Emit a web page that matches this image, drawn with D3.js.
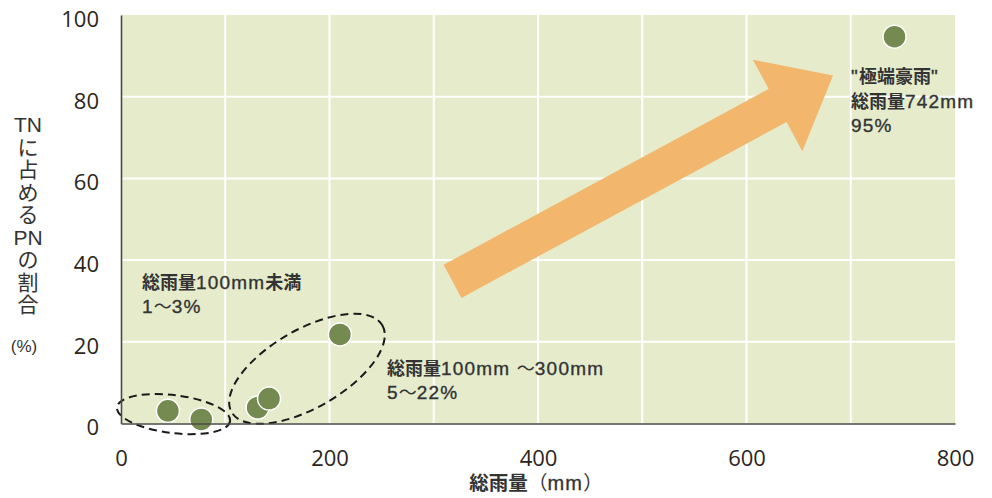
<!DOCTYPE html>
<html>
<head>
<meta charset="utf-8">
<script src="https://cdn.jsdelivr.net/npm/d3@7"></script>
<style>
  html, body { margin: 0; padding: 0; background: #fff; }
  svg { display: block; }
</style>
</head>
<body>
<svg id="chart" width="992" height="498"></svg>
<script>
// ---- data ----
const rainfall = [45, 77, 131, 142, 210, 742];      // 総雨量 (mm)
const pnRatio  = [3.1, 1.0, 3.9, 6.1, 21.8, 94.7];   // TNに占めるPNの割合 (%)
const xTicks = [0, 200, 400, 600, 800];
const yTicks = [0, 20, 40, 60, 80, 100];
const xGrid = [100, 200, 300, 400, 500, 600, 700];
const yGrid = [20, 40, 60, 80];
const xTitle = "総雨量（mm）";
const yTitleRows = ["TN", "に", "占", "め", "る", "PN", "の", "割", "合"];
const yUnit = "(%)";
const labelLow = ["総雨量100mm未満", "1～3%"];
const labelMid = ["総雨量100mm ～300mm", "5～22%"];
const labelHigh = ["\"極端豪雨\"", "総雨量742mm", "95%"];
// arrow from (rainfall, ratio) to (rainfall, ratio)
const arrowFrom = [318, 34.8];
const arrowTo = [683, 85.2];
// group ellipses centred at (rainfall, ratio)
const groupLow = [50.4, 2.3];
const groupMid = [178.4, 13.4];

// ---- layout ----
const svg = d3.select("#chart");
const x = d3.scaleLinear().domain([0, 800]).range([121, 955]);
const y = d3.scaleLinear().domain([0, 100]).range([423.5, 15]);
const numFont = "'Open Sans', 'Liberation Sans', sans-serif";
const jpFont = "'Noto Sans CJK JP', 'Noto Sans', sans-serif";
const latFont = "'Liberation Sans', Arial, sans-serif";
const textColor = "#333333";

// background
svg.append("rect")
  .attr("x", x(0)).attr("y", y(100))
  .attr("width", x(800) - x(0)).attr("height", y(0) - y(100))
  .attr("fill", "#e5ebcb");

// grid
svg.append("g").selectAll("line").data(xGrid).join("line")
  .attr("x1", d => x(d)).attr("x2", d => x(d))
  .attr("y1", y(100)).attr("y2", y(0))
  .attr("stroke", "#ffffff").attr("stroke-width", 2);
svg.append("g").selectAll("line").data(yGrid).join("line")
  .attr("x1", x(0)).attr("x2", x(800))
  .attr("y1", d => y(d)).attr("y2", d => y(d))
  .attr("stroke", "#ffffff").attr("stroke-width", 2);

// arrow
(function () {
  const x0 = x(arrowFrom[0]), y0 = y(arrowFrom[1]);
  const x1 = x(arrowTo[0]), y1 = y(arrowTo[1]);
  const dx = x1 - x0, dy = y1 - y0;
  const len = Math.hypot(dx, dy);
  const ux = dx / len, uy = dy / len;
  const px = -uy, py = ux;
  const shaftW = 37.6, headW = 104, headL = 63;
  const bx = x1 - ux * headL, by = y1 - uy * headL;
  const pts = [
    [x0 + px * shaftW / 2, y0 + py * shaftW / 2],
    [bx + px * shaftW / 2, by + py * shaftW / 2],
    [bx + px * headW / 2, by + py * headW / 2],
    [x1, y1],
    [bx - px * headW / 2, by - py * headW / 2],
    [bx - px * shaftW / 2, by - py * shaftW / 2],
    [x0 - px * shaftW / 2, y0 - py * shaftW / 2]
  ];
  svg.append("polygon")
    .attr("points", pts.map(p => p.join(",")).join(" "))
    .attr("fill", "#f2b66d");
})();

// dashed group ellipses
const ellipses = [
  { c: groupLow, rx: 57, ry: 19, rot: 7 },
  { c: groupMid, rx: 87, ry: 39, rot: -30 }
];
svg.append("g").selectAll("ellipse").data(ellipses).join("ellipse")
  .attr("cx", 0).attr("cy", 0)
  .attr("rx", d => d.rx).attr("ry", d => d.ry)
  .attr("transform", d => `translate(${x(d.c[0])},${y(d.c[1])}) rotate(${d.rot})`)
  .attr("fill", "none").attr("stroke", "#1a1a1a")
  .attr("stroke-width", 2).attr("stroke-dasharray", "8,5");

// points
const pts = rainfall.map((r, i) => ({ r, p: pnRatio[i] }));
svg.append("g").selectAll("circle").data(pts).join("circle")
  .attr("cx", d => x(d.r)).attr("cy", d => y(d.p))
  .attr("r", 11.5)
  .attr("fill", "#748a50")
  .attr("stroke", "#ffffff").attr("stroke-width", 1.5);

// axes
const xAxis = d3.axisBottom(x).tickValues(xTicks).tickSize(0).tickPadding(27).tickFormat(d3.format("d"));
const yAxis = d3.axisLeft(y).tickValues(yTicks).tickSize(0).tickPadding(22).tickFormat(d3.format("d"));
const gx = svg.append("g").attr("transform", `translate(0,${y(0)})`).call(xAxis);
const gy = svg.append("g").attr("transform", `translate(${x(0)},0)`).call(yAxis);
[gx, gy].forEach(g => {
  g.select(".domain").attr("stroke", "#4b4b45").attr("stroke-width", 1.6);
  g.selectAll("text")
    .attr("font-family", numFont).attr("font-size", 22)
    .attr("fill", "#2b2522");
});
gy.selectAll("text").attr("dy", "0.52em");

// mixed-script text helper: ideographs/kana bold, fullwidth punctuation regular CJK, latin regular
function segments(str) {
  const re = /([\u3040-\u30ff\u4e00-\u9fff]+)|([\uff00-\uffef\u3000-\u303f]+)|([^\u3040-\u30ff\u4e00-\u9fff\uff00-\uffef\u3000-\u303f]+)/g;
  const out = [];
  let m;
  while ((m = re.exec(str)) !== null) {
    if (m[1]) out.push({ t: m[1], kind: "cjk" });
    else if (m[2]) out.push({ t: m[2], kind: "punct" });
    else out.push({ t: m[3], kind: "lat" });
  }
  return out;
}
function mixedText(parent, str, x0, y0, cjkSize, latSize, anchor) {
  const t = parent.append("text")
    .attr("x", x0).attr("y", y0)
    .attr("fill", textColor)
    .attr("text-anchor", anchor || "start")
    .style("white-space", "pre");
  t.selectAll("tspan").data(segments(str)).join("tspan")
    .attr("font-family", d => d.kind === "lat" ? latFont : jpFont)
    .attr("font-weight", d => d.kind === "cjk" ? 700 : 400)
    .attr("font-size", d => d.kind === "lat" ? latSize : cjkSize)
    .attr("letter-spacing", d => d.kind === "lat" ? 1.2 : 0)
    .attr("stroke", d => d.kind === "lat" ? textColor : "none")
    .attr("stroke-width", d => d.kind === "lat" ? 0.35 : 0)
    .text(d => d.t);
  return t;
}

// axis titles
mixedText(svg, xTitle, 536, 490, 19.5, 20, "middle");

// y title: one text element with stacked rows
const yt = svg.append("text")
  .attr("font-size", 21)
  .attr("fill", textColor)
  .attr("text-anchor", "middle");
yt.selectAll("tspan").data(yTitleRows).join("tspan")
  .attr("x", 28)
  .attr("y", (d, i) => 132 + i * 22.5)
  .attr("font-family", d => /^[A-Z]+$/.test(d) ? latFont : jpFont)
  .attr("font-weight", 400)
  .text(d => d);
svg.append("text")
  .attr("x", 24).attr("y", 352)
  .attr("text-anchor", "middle")
  .attr("font-family", latFont).attr("font-size", 17)
  .attr("fill", textColor)
  .text(yUnit);

// annotations
function block(lines, x0, y0, pitch) {
  const g = svg.append("g");
  lines.forEach((s, i) => mixedText(g, s, x0, y0 + i * pitch, 18, 19));
}
block(labelLow, 142, 289, 24);
block(labelMid, 387, 375, 23.5);
block(labelHigh, 851, 83, 24.5);
</script>
</body>
</html>
